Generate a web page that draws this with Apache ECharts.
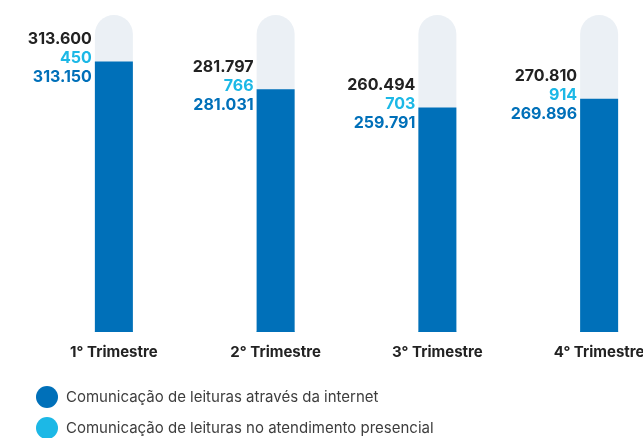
<!DOCTYPE html>
<html>
<head>
<meta charset="utf-8">
<script src="https://cdn.jsdelivr.net/npm/echarts@6/dist/echarts.min.js"></script>
<style>
  html, body { margin: 0; padding: 0; background: #fff; overflow: hidden; }
  /* o gráfico original é cortado à direita (4° Trimestre) */
  #chart { width: 680px; height: 438px; }
</style>
</head>
<body>
<div id="chart"></div>
<script>
// dados por trimestre
const categories = ['1° Trimestre', '2° Trimestre', '3° Trimestre', '4° Trimestre']
const internet = [313150, 281031, 259791, 269896]
const presencial = [450, 766, 703, 914]
const total = [313600, 281797, 260494, 270810]

const colBlue = '#0070b9'
const colCyan = '#1cb8e6'
const colTrack = '#ebf0f5'

const nameInternet = 'Comunicação de leituras através da internet'
const namePresencial = 'Comunicação de leituras no atendimento presencial'

// 313600 -> "313.600"
const fmt = v => String(v).replace(/\B(?=(\d{3})+(?!\d))/g, '.')

const chart = echarts.init(document.getElementById('chart'))

chart.setOption({
  animation: false,
  textStyle: { fontFamily: 'Inter, Roboto, sans-serif' },
  grid: { left: 33, right: 0, top: 15, bottom: 106 },
  legend: {
    orient: 'vertical',
    left: 36,
    top: 386,
    height: 60,
    padding: 0,
    icon: 'circle',
    itemWidth: 22,
    itemHeight: 22,
    itemGap: 9,
    textStyle: { fontSize: 15, color: '#3d3d3d', padding: [0, 0, 0, 3] },
    data: [nameInternet, namePresencial]
  },
  xAxis: {
    type: 'category',
    data: categories,
    axisLine: { show: false },
    axisTick: { show: false },
    axisLabel: { color: '#222', fontSize: 15, fontWeight: 'bold', margin: 13 }
  },
  yAxis: {
    type: 'value',
    min: 0,
    max: 367000,
    show: false
  },
  series: [
    {
      // desenhada primeiro, fica escondida por trás da barra azul
      name: namePresencial,
      type: 'bar',
      barWidth: 38,
      data: presencial,
      itemStyle: { color: colCyan },
      showBackground: true,
      backgroundStyle: { color: colTrack, borderRadius: [19, 19, 0, 0] }
    },
    {
      name: nameInternet,
      type: 'bar',
      barWidth: 38,
      barGap: '-100%',
      data: internet,
      itemStyle: { color: colBlue },
      label: {
        show: true,
        position: [-3, 25],
        align: 'right',
        verticalAlign: 'bottom',
        formatter: p => '{t|' + fmt(total[p.dataIndex]) + '}\n{p|' + fmt(presencial[p.dataIndex]) + '}\n{i|' + fmt(internet[p.dataIndex]) + '}',
        rich: {
          t: { color: '#222', fontSize: 16, fontWeight: 'bold', lineHeight: 19, align: 'right' },
          p: { color: colCyan, fontSize: 16, fontWeight: 'bold', lineHeight: 19, align: 'right' },
          i: { color: colBlue, fontSize: 16, fontWeight: 'bold', lineHeight: 19, align: 'right' }
        }
      }
    }
  ]
})
</script>
</body>
</html>
